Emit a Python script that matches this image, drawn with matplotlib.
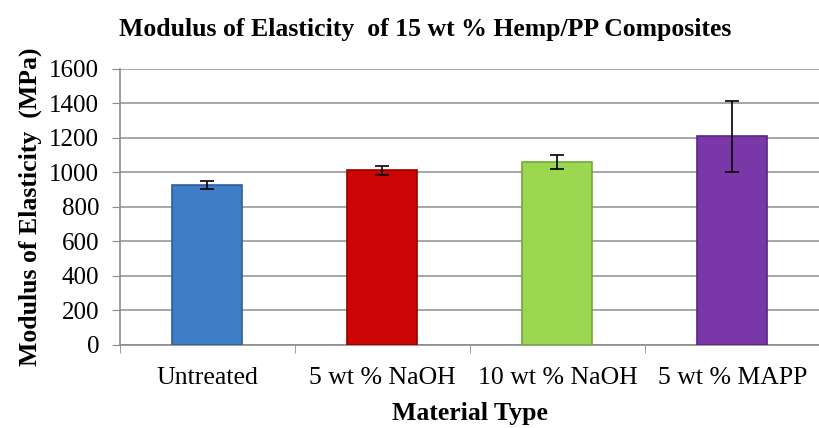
import matplotlib.pyplot as plt
import numpy as np

categories = ['Untreated', '5 wt % NaOH', '10 wt % NaOH', '5 wt % MAPP']
modulus = [925, 1012, 1060, 1210]
errors = [23, 27, 40, 205]
colors = ['#3F7DC9', '#CC0404', '#9CD751', '#7A37A8']
edge_colors = ['#2E5E98', '#960000', '#74A83A', '#5A2580']

plt.rcParams['font.family'] = ['Liberation Serif', 'DejaVu Serif']

fig = plt.figure(figsize=(8.2, 4.28), dpi=100)
ax = fig.add_axes([0.1463, 0.194, 0.8537, 0.645])

x = np.arange(len(categories))
ax.bar(x, modulus, width=0.4, color=colors, edgecolor=edge_colors, linewidth=1.2, zorder=3)
ax.errorbar(x, modulus, yerr=errors, fmt='none', ecolor='black', elinewidth=1.2,
            capsize=5, capthick=1.2, zorder=4)

ax.set_ylim(0, 1600)
ax.set_xlim(-0.5, 3.444)
ax.set_yticks(np.arange(0, 1601, 200))
ax.yaxis.grid(True, color='#A6A6A6', linewidth=1.4, zorder=0)
ax.set_axisbelow(True)

ax.set_xticks(x)
ax.set_xticklabels(categories, fontsize=18.5)
ax.set_xticks(np.arange(-0.5, 4, 1), minor=True)
ax.tick_params(axis='x', which='major', length=0, pad=16)
ax.tick_params(axis='x', which='minor', length=6, color='#8C8C8C', direction='out')
ax.tick_params(axis='y', labelsize=18, length=6, color='#8C8C8C', pad=9)

for s in ['top', 'right']:
    ax.spines[s].set_visible(False)
for s in ['left', 'bottom']:
    ax.spines[s].set_color('#8C8C8C')
    ax.spines[s].set_linewidth(1.2)

ax.set_ylabel('Modulus of Elasticity  (MPa)', fontsize=18.5, fontweight='bold', labelpad=5)
ax.set_xlabel('Material Type', fontsize=18.5, fontweight='bold', labelpad=9)
fig.text(0.518, 0.93, 'Modulus of Elasticity  of 15 wt % Hemp/PP Composites',
         ha='center', va='center', fontsize=18.5, fontweight='bold')

fig.savefig('out.png', dpi=100)
